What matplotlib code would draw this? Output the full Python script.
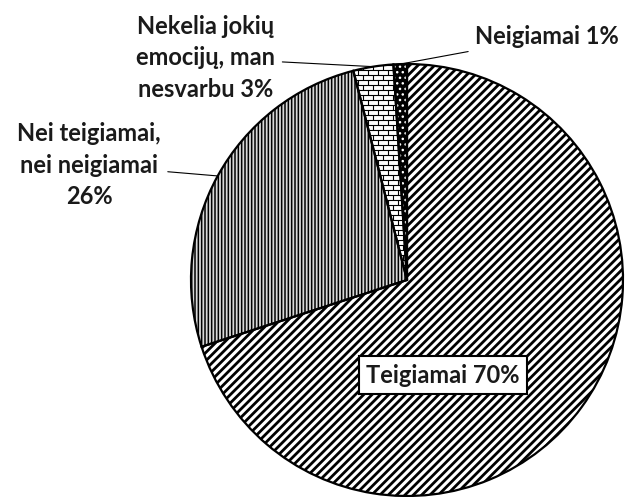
import numpy as np
import matplotlib
matplotlib.use('Agg')
import matplotlib.pyplot as plt
from matplotlib.collections import LineCollection

categories = ['Teigiamai', 'Nei teigiamai,\nnei neigiamai',
              'Nekelia jokių\nemocijų, man\nnesvarbu', 'Neigiamai']
values = [70, 26, 3, 1]
separators = [' ', '\n', ' ', ' ']

plt.rcParams['font.family'] = ['Lato', 'DejaVu Sans']

W, H = 627, 497
fig = plt.figure(figsize=(W / 100, H / 100), dpi=100)
cx, cy, R = 407, 280, 216
ax = fig.add_axes([(cx - R) / W, (H - cy - R) / H, 2 * R / W, 2 * R / H])

faces = ['white', '#d9d9d9', 'white', 'black']
hatch_cols = ['black', 'black', 'none', 'white']
hatches = ['////', '|||||', None, '...']
hatch_lw = [2.0, 1.1, 0.8, 1.0]

wedges, _ = ax.pie(values, startangle=90, counterclock=False, radius=1,
                   colors=faces, wedgeprops=dict(linewidth=0))
for w, hc, h, lw in zip(wedges, hatch_cols, hatches, hatch_lw):
    w.set_edgecolor(hc)
    w.set_linewidth(0)
    if h:
        w.set_hatch(h)
        if hasattr(w, 'set_hatch_linewidth'):
            w.set_hatch_linewidth(lw)

# brick texture for the 3% slice
bw = wedges[2]
th = np.radians(np.linspace(bw.theta1, bw.theta2, 50))
xs = np.concatenate([[0], bw.r * np.cos(th)])
ys = np.concatenate([[0], bw.r * np.sin(th)])
x0, x1, y0, y1 = xs.min(), xs.max(), ys.min(), ys.max()
rowh = 5.0 / R
brickw = 10.0 / R
segs = []
yy = y0
k = 0
while yy <= y1 + rowh:
    segs.append([(x0, yy), (x1, yy)])
    off = (k % 2) * brickw / 2
    xx = x0 - brickw + off
    while xx <= x1 + brickw:
        segs.append([(xx, yy), (xx, yy + rowh)])
        xx += brickw
    yy += rowh
    k += 1
lc = LineCollection(segs, colors='black', linewidths=0.8)
ax.add_collection(lc)
lc.set_clip_path(bw)

# outlines
ax.pie(values, startangle=90, counterclock=False, radius=1,
       wedgeprops=dict(fill=False, edgecolor='black', linewidth=1.6))

ax.set_xlim(-1, 1)
ax.set_ylim(-1, 1)
ax.set_aspect('equal')
ax.axis('off')

labels = [c + s + f'{v}%' for c, s, v in zip(categories, separators, values)]
label_pos = [(0.167, -0.44), (-1.472, 0.532), (-0.931, 1.028), (0.315, 1.125)]
label_ha = ['center', 'center', 'center', 'left']

fs = 17
for i, (w, lab, pos, ha) in enumerate(zip(wedges, labels, label_pos, label_ha)):
    mid = np.radians((w.theta1 + w.theta2) / 2)
    xy = (np.cos(mid), np.sin(mid))
    if i == 0:
        ax.text(pos[0], pos[1], lab, ha='center', va='center', fontsize=fs,
                fontweight='bold', color='#1a1a1a',
                bbox=dict(boxstyle='square,pad=0.3', facecolor='white',
                          edgecolor='black', linewidth=1.5))
    else:
        ax.annotate(lab, xy=xy, xytext=pos, textcoords='data', ha=ha, va='center',
                    fontsize=fs, fontweight='bold', color='#1a1a1a',
                    linespacing=1.45, annotation_clip=False,
                    arrowprops=dict(arrowstyle='-', color='black', lw=0.8,
                                    shrinkA=3, shrinkB=0))

fig.savefig('out.png', dpi=100)
